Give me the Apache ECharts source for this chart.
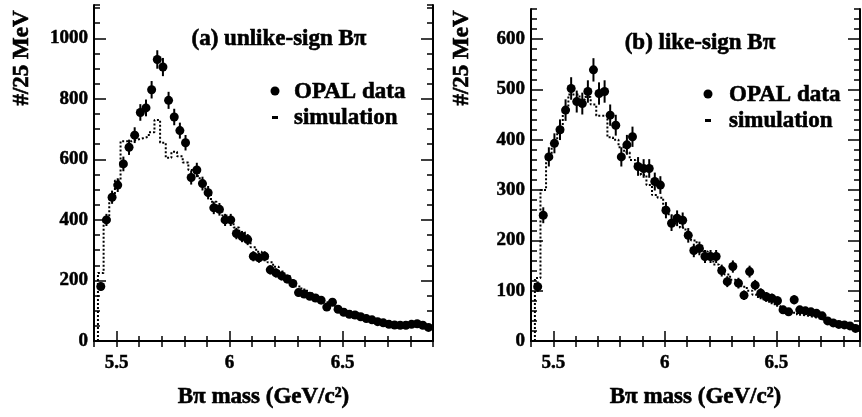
<!DOCTYPE html>
<html><head><meta charset="utf-8">
<script src="https://cdn.jsdelivr.net/npm/echarts@6/dist/echarts.min.js"></script>
<style>html,body{margin:0;padding:0;background:#fff}#c{width:862px;height:417px}</style>
</head><body><div id="c"></div>
<script>
// ---- data (25 MeV bins) ----
const BIN_WIDTH = 0.025;
const FIRST_BIN_CENTER = 5.43;

// (a) unlike-sign B pi
const dataA = [180,400,475,515,585,640,680,755,770,830,930,905,795,740,695,655,540,565,520,490,
  440,435,400,400,355,345,335,280,275,280,235,225,215,205,190,160,155,148,142,135,
  112,128,105,95,88,86,80,74,70,64,60,55,53,52,52,55,57,52,45];
const simA = [225,400,470,530,660,660,665,670,675,690,730,655,605,625,610,590,565,545,520,495,
  460,440,415,395,375,360,345,310,295,285,260,245,230,215,195,180,170,158,148,138,
  128,120,112,105,98,92,86,80,75,70,66,62,58,56,54,52,50,48,45];

// (b) like-sign B pi
const dataB = [108,250,366,393,420,459,502,476,472,496,539,492,496,449,429,366,390,406,347,343,
  343,317,310,260,234,244,240,210,180,184,168,168,168,140,118,148,115,91,138,111,
  95,88,85,80,62,58,82,62,60,58,55,50,40,36,33,32,30,25];
const simB = [125,300,365,395,415,455,490,490,480,485,470,448,448,405,400,385,375,360,345,330,
  310,290,285,265,250,240,225,210,200,190,178,165,152,142,132,122,115,108,100,92,
  85,80,75,70,64,60,56,52,50,48,45,42,40,38,36,34,32,30];

const xTickLabels = [5.5, 6, 6.5];
const yTicksA = [0, 200, 400, 600, 800, 1000];
const yTicksB = [0, 100, 200, 300, 400, 500, 600];

// ---- helpers ----
const FONT = 'Liberation Serif';
const lbl = {color:'#000', fontFamily:FONT, fontWeight:'bold', fontSize:19, textBorderColor:'#000', textBorderWidth:0.5};
const BIG = 'bold 23px "Liberation Serif"';
const bigStyle = (text, align) => ({text, fill:'#000', textAlign:align, textVerticalAlign:'middle', font:BIG, stroke:'#000', lineWidth:0.6});

function points(vals){ return vals.map((v,i)=>[FIRST_BIN_CENTER + BIN_WIDTH*i, v]); }
function steps(vals){
  const pts = [[FIRST_BIN_CENTER - BIN_WIDTH/2, 0]];
  vals.forEach((v,i)=>{
    const c = FIRST_BIN_CENTER + BIN_WIDTH*i;
    pts.push([c - BIN_WIDTH/2, v]); pts.push([c + BIN_WIDTH/2, v]);
  });
  return pts;
}

function xAxes(g, min, max){
  return [
    {gridIndex:g, type:'value', position:'bottom', min, max,
     axisLine:{show:true, lineStyle:{color:'#000', width:2}},
     axisTick:{inside:true, length:10, customValues:xTickLabels, lineStyle:{color:'#000', width:1.5}},
     axisLabel:{customValues:xTickLabels, margin:13, formatter:v=>String(v), ...lbl},
     splitLine:{show:false},
     name:'Bπ mass (GeV/c²)', nameLocation:'middle', nameGap:45,
     nameTextStyle:{color:'#000', fontFamily:FONT, fontWeight:'bold', fontSize:23, textBorderColor:'#000', textBorderWidth:0.6}},
    {gridIndex:g, type:'value', position:'bottom', min, max, interval:0.1,
     axisLine:{show:false}, axisTick:{inside:true, length:5, lineStyle:{color:'#000', width:1.5}},
     axisLabel:{show:false}, splitLine:{show:false}},
    {gridIndex:g, type:'value', position:'top', min, max, interval:0.1,
     axisLine:{show:true, lineStyle:{color:'#000', width:2}},
     axisTick:{inside:true, length:6, lineStyle:{color:'#000', width:1.5}},
     axisLabel:{show:false}, splitLine:{show:false}}
  ];
}
function yAxes(g, max, ticks, minor){
  return [
    {gridIndex:g, type:'value', position:'left', min:0, max,
     axisLine:{show:true, lineStyle:{color:'#000', width:2}},
     axisTick:{inside:true, length:12, customValues:ticks, lineStyle:{color:'#000', width:1.5}},
     axisLabel:{customValues:ticks, margin:6, formatter:v=>String(v), ...lbl},
     splitLine:{show:false}},
    {gridIndex:g, type:'value', position:'left', min:0, max, interval:minor,
     axisLine:{show:false}, axisTick:{inside:true, length:6, lineStyle:{color:'#000', width:1.5}},
     axisLabel:{show:false}, splitLine:{show:false}},
    {gridIndex:g, type:'value', position:'right', min:0, max, interval:minor,
     axisLine:{show:true, lineStyle:{color:'#000', width:2}},
     axisTick:{inside:true, length:6, lineStyle:{color:'#000', width:1.5}},
     axisLabel:{show:false}, splitLine:{show:false}},
    {gridIndex:g, type:'value', position:'right', min:0, max,
     axisLine:{show:false},
     axisTick:{inside:true, length:12, customValues:ticks, lineStyle:{color:'#000', width:1.5}},
     axisLabel:{show:false}, splitLine:{show:false}}
  ];
}

function errRender(params, api){
  const x = api.value(0), y = api.value(1), e = Math.sqrt(y);
  const a = api.coord([x, y + e]), b = api.coord([x, y - e]);
  return {type:'line', shape:{x1:a[0], y1:a[1], x2:b[0], y2:b[1]},
          style:{stroke:'#000', lineWidth:2}};
}

function seriesFor(xi, yi, data, sim){
  return [
    {type:'line', xAxisIndex:xi, yAxisIndex:yi, data:steps(sim), showSymbol:false, silent:true,
     lineStyle:{color:'#000', width:2, type:'dotted', opacity:1}, z:2},
    {type:'custom', xAxisIndex:xi, yAxisIndex:yi, data:points(data), renderItem:errRender, z:3},
    {type:'scatter', xAxisIndex:xi, yAxisIndex:yi, data:points(data), symbol:'circle', symbolSize:9,
     itemStyle:{color:'#000', opacity:1}, z:4}
  ];
}

const chart = echarts.init(document.getElementById('c'), null, {renderer:'canvas'});
chart.setOption({
  animation:false,
  backgroundColor:'#fff',
  grid:[
    {left:94, right:429, top:5, bottom:76},
    {left:531, right:2, top:9, bottom:76}
  ],
  xAxis:[...xAxes(0, 5.4, 6.9), ...xAxes(1, 5.4, 6.875)],
  yAxis:[...yAxes(0, 1110, yTicksA, 50), ...yAxes(1, 660, yTicksB, 20)],
  series:[...seriesFor(0, 0, dataA, simA), ...seriesFor(3, 4, dataB, simB)],
  graphic:[
    {type:'text', x:22, y:58, rotation:Math.PI/2, style:bigStyle('#/25 MeV', 'center')},
    {type:'text', x:462, y:58, rotation:Math.PI/2, style:bigStyle('#/25 MeV', 'center')},
    {type:'text', x:279, y:39, style:bigStyle('(a) unlike-sign Bπ', 'center')},
    {type:'text', x:700, y:43, style:bigStyle('(b) like-sign Bπ', 'center')},
    {type:'circle', shape:{cx:275, cy:91, r:4.5}, style:{fill:'#000'}},
    {type:'text', x:294, y:92, style:bigStyle('OPAL data', 'left')},
    {type:'rect', shape:{x:272, y:116, width:6, height:3}, style:{fill:'#000'}},
    {type:'text', x:294, y:118, style:bigStyle('simulation', 'left')},
    {type:'circle', shape:{cx:708, cy:94, r:4.5}, style:{fill:'#000'}},
    {type:'text', x:729, y:95, style:bigStyle('OPAL data', 'left')},
    {type:'rect', shape:{x:705, y:119, width:6, height:3}, style:{fill:'#000'}},
    {type:'text', x:729, y:121, style:bigStyle('simulation', 'left')}
  ]
});
</script>
</body></html>
